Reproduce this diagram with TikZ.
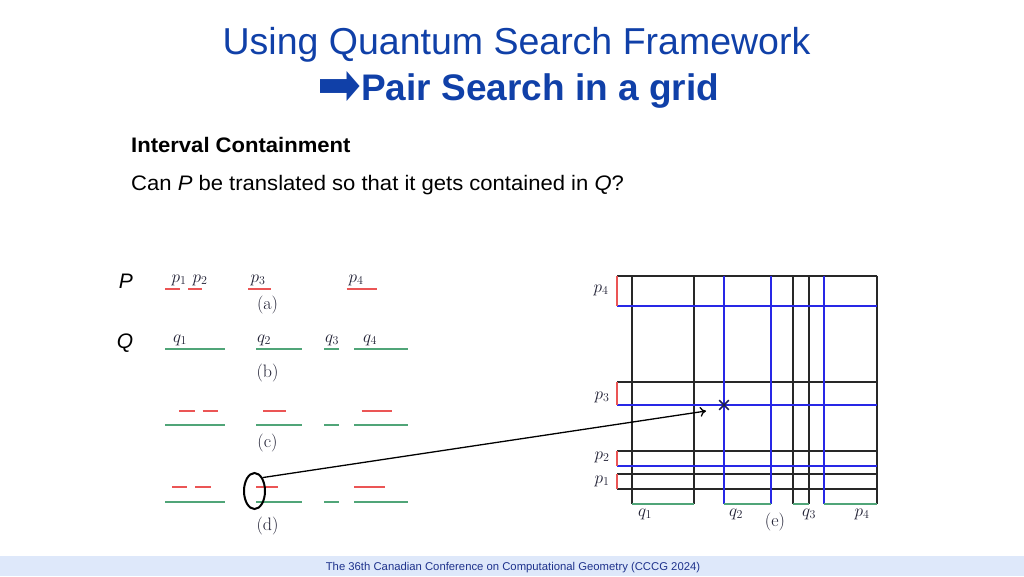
\documentclass[tikz,border=0pt]{standalone}
\usepackage{fontspec}
\usepackage{amsmath}
\usepackage{graphicx}
\usetikzlibrary{arrows,arrows.meta,shapes.geometric,shapes.misc}
\newfontfamily\arialfont{Liberation Sans}
\newfontfamily\bodyfont[FakeStretch=1.05]{Liberation Sans}
\newfontfamily\symfont{DejaVu Sans}
\definecolor{titleblue}{RGB}{16,64,168}
\definecolor{footblue}{RGB}{222,232,250}
\definecolor{foottext}{RGB}{30,50,140}
\definecolor{pred}{RGB}{235,85,85}
\definecolor{qgreen}{RGB}{80,165,120}
\definecolor{gridblue}{RGB}{40,40,230}
\definecolor{gridgray}{RGB}{40,40,40}
\definecolor{labink}{RGB}{30,30,50}
\definecolor{crossink}{RGB}{30,30,80}
\tikzset{
  pseg/.style={pred,line width=2pt},
  qseg/.style={qgreen,line width=1.9pt},
  gline/.style={gridgray,line width=1.8pt},
  bline/.style={gridblue,line width=2pt},
  lab/.style={text=labink,inner sep=0pt,font=\fontsize{18}{18}\selectfont}
}

\begin{document}
\begin{tikzpicture}[x=1pt,y=-1pt]
\useasboundingbox (0,0) rectangle (1024,576);
\fill[footblue] (0,556) rectangle (1024,576);
\node[text=foottext,inner sep=0,font=\arialfont\fontsize{11.3}{12}\selectfont] (footer) at (513,567.5) {The 36th Canadian Conference on Computational Geometry (CCCG 2024)};
\node[anchor=base,inner sep=0,text=titleblue,font=\arialfont\fontsize{37.5}{40}\selectfont] (title) at (516.5,54.3) {Using Quantum Search Framework};
\node[anchor=base west,inner sep=0,text=titleblue,font=\arialfont\bfseries\fontsize{37}{40}\selectfont] (subtitle) at (361,100.7) {Pair Search in a grid};
\node[inner sep=0,text=titleblue,font=\symfont] (arrowsym) at (339,88.5) {\resizebox*{44pt}{34pt}{➡}};
\node[anchor=base west,inner sep=0,font=\bodyfont\bfseries\fontsize{21}{24}\selectfont] (topic) at (131,152) {Interval Containment};
\node[anchor=base west,inner sep=0,font=\bodyfont\fontsize{21}{24}\selectfont] (question) at (131,190) {Can \textit{P} be translated so that it gets contained in \textit{Q}?};
\node[inner sep=0,font=\arialfont\itshape\fontsize{21}{24}\selectfont] (setP) at (126,281) {P};
\node[inner sep=0,font=\arialfont\itshape\fontsize{21}{24}\selectfont] (setQ) at (125,343) {Q};

\foreach \a/\b in {165/180,188.3/202.3,248.3/270.7,346.7/377.3}
  \draw[pseg] (\a,289.3) -- (\b,289.3);
\foreach \a/\b in {179.3/195,202.7/218.3,263.3/286,361.7/392.3}
  \draw[pseg] (\a,410.7) -- (\b,410.7);
\foreach \a/\b in {172.3/187.3,195/210.7,256/278.3,354.3/385}
  \draw[pseg] (\a,486.7) -- (\b,486.7);
\foreach \y in {349.3,425.3,501.7}
  \foreach \a/\b in {165/225,256/301.7,324/339.3,354.3/407.7}
    \draw[qseg] (\a,\y) -- (\b,\y);
\node[lab] (pa1) at (179,280) {$p_1$};
\node[lab] (pa2) at (200,280) {$p_2$};
\node[lab] (pa3) at (258,280) {$p_3$};
\node[lab] (pa4) at (356,280) {$p_4$};
\node[lab] (qb1) at (180,340) {$q_1$};
\node[lab] (qb2) at (264,340) {$q_2$};
\node[lab] (qb3) at (332,340) {$q_3$};
\node[lab] (qb4) at (370,340) {$q_4$};
\node[lab] (capa) at (267.5,305) {(a)};
\node[lab] (capb) at (267.5,373) {(b)};
\node[lab] (capc) at (267.5,442.5) {(c)};
\node[lab] (capd) at (267.5,526) {(d)};

\foreach \y in {275.7,382.3,451,474,489.3}
  \draw[gline] (617,\y) -- (877,\y);
\foreach \x in {632.3,694.3,793.3,808.7,876.7}
  \draw[gline] (\x,275.7) -- (\x,504.3);
\foreach \y in {305.7,405,466.3}
  \draw[bline] (617,\y) -- (877,\y);
\foreach \x in {724,770.7,823.7}
  \draw[bline] (\x,275.7) -- (\x,504.3);
\foreach \a/\b in {275.7/305.7,382.3/405,451/466.3,474/489.3}
  \draw[pseg] (617,\a) -- (617,\b);
\foreach \a/\b in {632.3/694.3,724/770.7,793.3/808.7,823.7/876.7}
  \draw[qseg] (\a,504.3) -- (\b,504.3);
\node[lab] (ge4) at (601,290) {$p_4$};
\node[lab] (ge3) at (602,397) {$p_3$};
\node[lab] (ge2) at (602,457) {$p_2$};
\node[lab] (ge1) at (602,481) {$p_1$};
\node[lab] (gq1) at (645,514) {$q_1$};
\node[lab] (gq2) at (736,514) {$q_2$};
\node[lab] (gq3) at (809,514) {$q_3$};
\node[lab] (gq4) at (862,514) {$p_4$};
\node[lab] (cape) at (775,522) {(e)};

\node[draw=crossink,cross out,inner sep=0,minimum size=8pt,line width=1.6pt] (hit) at (724,405) {};
\node[draw,ellipse,inner sep=0,minimum width=21pt,minimum height=36pt,line width=2pt] (ring) at (254.5,491) {};
\coordinate (tip) at (706,411);
\draw[-{To[length=6pt,width=10pt]},line width=1.3pt] (ring.north east) -- (tip);
\end{tikzpicture}
\end{document}
